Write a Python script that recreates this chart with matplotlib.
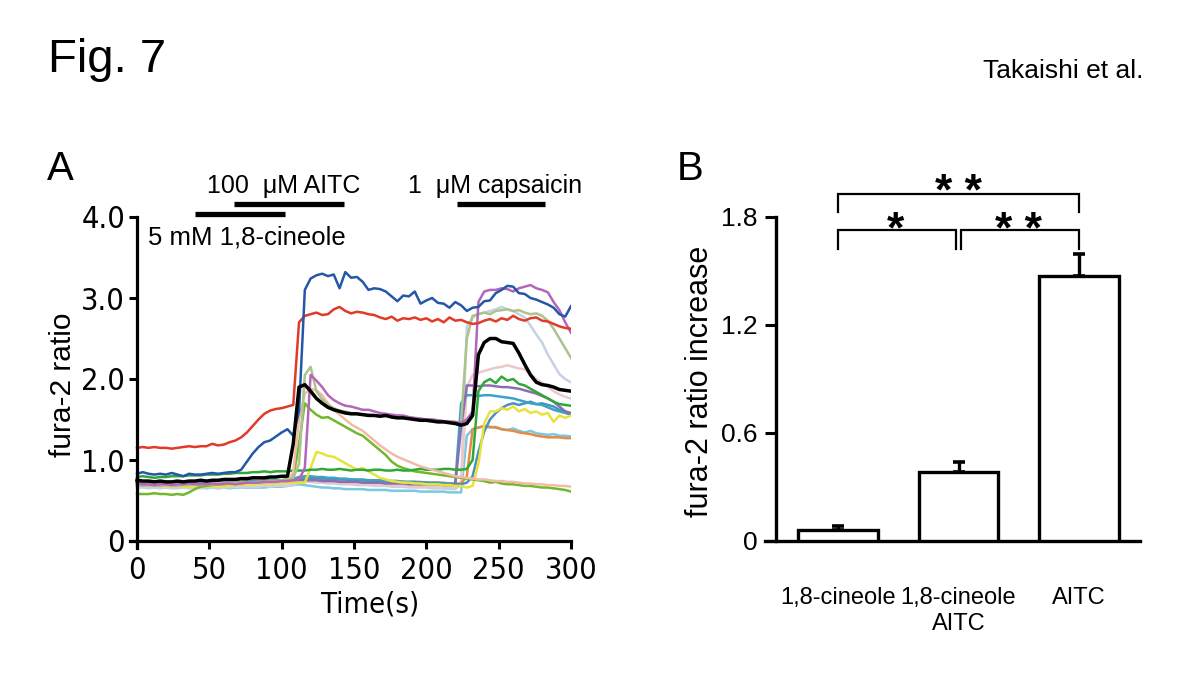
import numpy as np
import matplotlib
matplotlib.use("Agg")
import matplotlib.pyplot as plt

# ---------------- data: panel A (fura-2 ratio traces, sampled every 4 s) ----------------
time_s = np.arange(0, 301, 4)

red = [1.15,1.16,1.15,1.16,1.15,1.15,1.14,1.15,1.16,1.17,
       1.16,1.17,1.17,1.20,1.18,1.19,1.22,1.24,1.28,1.34,
       1.42,1.50,1.57,1.61,1.63,1.64,1.66,1.68,2.70,2.78,
       2.80,2.82,2.79,2.80,2.86,2.89,2.84,2.81,2.83,2.82,
       2.80,2.79,2.76,2.74,2.77,2.72,2.75,2.74,2.76,2.73,
       2.75,2.71,2.74,2.70,2.76,2.72,2.73,2.70,2.68,2.69,
       2.72,2.74,2.71,2.75,2.73,2.78,2.74,2.72,2.75,2.76,
       2.72,2.71,2.68,2.65,2.63,2.62]
blue = [0.83,0.85,0.83,0.82,0.83,0.82,0.84,0.82,0.80,0.83,
        0.82,0.82,0.83,0.84,0.83,0.84,0.85,0.85,0.88,0.98,
        1.08,1.16,1.22,1.24,1.29,1.34,1.38,1.30,1.60,3.10,
        3.24,3.28,3.30,3.27,3.29,3.12,3.32,3.25,3.26,3.20,
        3.10,3.12,3.11,3.08,3.02,2.96,3.03,3.02,3.08,2.93,
        2.97,3.00,2.94,2.93,2.88,2.95,2.91,2.84,2.88,2.89,
        2.96,2.97,3.06,3.10,3.15,3.14,3.06,3.05,3.00,2.98,
        2.95,2.92,2.88,2.80,2.77,2.90]
black = [0.75,0.74,0.74,0.73,0.74,0.73,0.73,0.74,0.73,0.74,
         0.74,0.75,0.74,0.75,0.75,0.76,0.76,0.76,0.77,0.77,
         0.78,0.78,0.78,0.79,0.79,0.80,0.80,1.20,1.90,1.93,
         1.85,1.76,1.70,1.65,1.62,1.60,1.58,1.57,1.57,1.56,
         1.55,1.55,1.54,1.55,1.53,1.52,1.52,1.51,1.50,1.49,
         1.49,1.48,1.47,1.47,1.46,1.45,1.43,1.45,1.55,2.30,
         2.45,2.50,2.50,2.46,2.45,2.44,2.32,2.18,2.05,1.96,
         1.93,1.92,1.90,1.87,1.86,1.85]
magenta = [0.71,0.70,0.70,0.69,0.70,0.70,0.69,0.70,0.70,0.71,
           0.70,0.70,0.70,0.71,0.70,0.71,0.71,0.70,0.71,0.72,
           0.72,0.72,0.73,0.73,0.73,0.74,0.74,0.75,0.76,0.90,
           2.05,1.98,1.90,1.80,1.74,1.70,1.67,1.66,1.64,1.62,
           1.62,1.60,1.58,1.57,1.56,1.55,1.55,1.53,1.52,1.51,
           1.50,1.50,1.49,1.48,1.47,1.47,1.46,1.50,1.60,2.95,
           3.08,3.10,3.10,3.12,3.11,3.08,3.12,3.14,3.16,3.12,
           3.10,3.07,2.95,2.85,2.70,2.57]
olive = [0.69,0.68,0.69,0.68,0.68,0.69,0.68,0.68,0.69,0.69,
         0.70,0.69,0.70,0.70,0.70,0.71,0.71,0.71,0.72,0.72,
         0.72,0.73,0.73,0.74,0.74,0.75,0.76,0.78,0.95,2.05,
         2.15,1.85,1.75,1.68,1.64,1.61,1.60,1.58,1.57,1.56,
         1.56,1.55,1.55,1.54,1.55,1.53,1.54,1.52,1.51,1.51,
         1.50,1.50,1.49,1.48,1.48,1.47,1.46,2.50,2.78,2.80,
         2.82,2.80,2.84,2.85,2.86,2.84,2.85,2.82,2.80,2.81,
         2.78,2.72,2.62,2.50,2.38,2.26]
greyblue = [0.66,0.66,0.65,0.66,0.65,0.66,0.65,0.65,0.66,0.65,
            0.66,0.65,0.66,0.66,0.65,0.66,0.66,0.67,0.66,0.67,
            0.67,0.67,0.68,0.67,0.68,0.68,0.68,0.69,0.72,0.74,
            0.73,0.72,0.72,0.71,0.71,0.70,0.70,0.70,0.69,0.69,
            0.69,0.68,0.68,0.68,0.67,0.67,0.67,0.66,0.66,0.66,
            0.66,0.65,0.65,0.65,0.64,0.64,0.70,2.65,2.76,2.80,
            2.82,2.84,2.86,2.89,2.86,2.84,2.80,2.76,2.66,2.55,
            2.45,2.30,2.18,2.06,2.00,1.96]
peach = [0.71,0.70,0.71,0.70,0.70,0.71,0.70,0.70,0.71,0.71,
         0.71,0.70,0.71,0.71,0.71,0.72,0.72,0.72,0.71,0.72,
         0.72,0.72,0.73,0.72,0.73,0.73,0.74,0.85,1.50,1.82,
         1.88,1.86,1.80,1.70,1.62,1.56,1.50,1.44,1.40,1.36,
         1.30,1.24,1.18,1.13,1.08,1.04,1.01,0.98,0.95,0.92,
         0.90,0.88,0.86,0.84,0.82,0.80,0.79,0.78,0.77,0.76,
         0.76,0.75,0.74,0.74,0.73,0.73,0.72,0.71,0.71,0.70,
         0.70,0.69,0.69,0.68,0.68,0.67]
pink = [0.68,0.68,0.67,0.68,0.68,0.67,0.68,0.68,0.67,0.68,
        0.68,0.68,0.69,0.68,0.69,0.69,0.69,0.70,0.69,0.70,
        0.70,0.70,0.70,0.71,0.71,0.71,0.71,0.72,0.73,0.74,
        0.74,0.73,0.73,0.72,0.72,0.72,0.71,0.71,0.71,0.70,
        0.70,0.70,0.70,0.69,0.69,0.69,0.69,0.68,0.68,0.68,
        0.68,0.68,0.67,0.67,0.67,0.67,0.68,1.90,2.05,2.08,
        2.10,2.12,2.14,2.15,2.17,2.15,2.13,2.12,2.06,2.00,
        1.95,1.90,1.85,1.81,1.78,1.76]
dkgreen = [0.79,0.80,0.79,0.78,0.79,0.79,0.80,0.80,0.80,0.81,
           0.81,0.81,0.82,0.82,0.82,0.83,0.83,0.84,0.84,0.84,
           0.85,0.85,0.86,0.85,0.86,0.86,0.86,0.87,0.87,0.87,
           0.88,0.88,0.89,0.88,0.88,0.89,0.88,0.87,0.88,0.88,
           0.87,0.88,0.88,0.87,0.87,0.88,0.87,0.87,0.88,0.89,
           0.88,0.88,0.88,0.89,0.89,0.88,0.88,0.89,1.00,1.85,
           1.96,2.00,1.95,2.03,1.98,2.00,1.94,1.92,1.88,1.84,
           1.80,1.76,1.72,1.69,1.68,1.67]
lime = [0.58,0.58,0.58,0.59,0.58,0.58,0.57,0.58,0.57,0.60,
        0.64,0.67,0.68,0.69,0.70,0.70,0.71,0.71,0.72,0.72,
        0.72,0.73,0.73,0.74,0.74,0.75,0.75,0.78,1.20,1.70,
        1.62,1.56,1.52,1.53,1.49,1.45,1.41,1.37,1.33,1.30,
        1.24,1.18,1.12,1.06,0.98,0.93,0.90,0.88,0.86,0.85,
        0.84,0.83,0.82,0.81,0.80,0.79,0.78,0.77,0.76,0.75,
        0.74,0.72,0.73,0.71,0.70,0.70,0.69,0.68,0.68,0.67,
        0.66,0.66,0.65,0.64,0.63,0.61]
yellow = [0.70,0.69,0.70,0.69,0.68,0.68,0.67,0.68,0.67,0.67,
          0.68,0.67,0.67,0.68,0.67,0.68,0.68,0.69,0.69,0.70,
          0.70,0.70,0.71,0.70,0.71,0.71,0.72,0.72,0.72,0.72,
          0.90,1.10,1.08,1.05,1.04,1.00,0.96,0.92,0.88,0.90,
          0.86,0.82,0.78,0.76,0.74,0.73,0.72,0.72,0.71,0.71,
          0.70,0.70,0.70,0.69,0.69,0.68,0.68,0.66,0.68,0.95,
          1.45,1.60,1.60,1.64,1.62,1.66,1.60,1.63,1.58,1.60,
          1.56,1.58,1.47,1.55,1.52,1.55]
teal = [0.73,0.72,0.72,0.73,0.72,0.72,0.71,0.72,0.72,0.71,
        0.72,0.72,0.71,0.72,0.72,0.73,0.72,0.73,0.73,0.73,
        0.74,0.74,0.74,0.75,0.75,0.75,0.76,0.77,0.79,0.80,
        0.80,0.79,0.79,0.78,0.78,0.77,0.77,0.76,0.76,0.76,
        0.75,0.75,0.75,0.74,0.74,0.74,0.73,0.73,0.73,0.72,
        0.72,0.72,0.72,0.71,0.71,0.71,1.70,1.80,1.80,1.79,
        1.80,1.80,1.79,1.78,1.77,1.76,1.74,1.72,1.70,1.69,
        1.68,1.65,1.62,1.60,1.58,1.56]
medpurple = [0.70,0.70,0.69,0.70,0.70,0.69,0.69,0.70,0.70,0.69,
             0.70,0.70,0.70,0.70,0.71,0.71,0.71,0.71,0.72,0.72,
             0.72,0.72,0.73,0.73,0.73,0.74,0.74,0.74,0.75,0.75,
             0.75,0.75,0.74,0.74,0.74,0.73,0.73,0.73,0.73,0.72,
             0.72,0.72,0.72,0.71,0.71,0.71,0.71,0.70,0.70,0.70,
             0.70,0.70,0.70,0.69,0.69,0.69,1.40,1.92,1.92,1.91,
             1.92,1.92,1.91,1.90,1.90,1.89,1.88,1.86,1.84,1.82,
             1.79,1.76,1.72,1.66,1.60,1.57]
steel = [0.72,0.71,0.71,0.70,0.71,0.70,0.70,0.71,0.70,0.70,
         0.71,0.70,0.71,0.71,0.71,0.72,0.72,0.72,0.72,0.73,
         0.73,0.73,0.73,0.74,0.74,0.74,0.75,0.75,0.76,0.77,
         0.78,0.78,0.77,0.77,0.76,0.76,0.76,0.75,0.75,0.75,
         0.74,0.74,0.74,0.74,0.73,0.73,0.73,0.72,0.72,0.72,
         0.72,0.71,0.71,0.71,0.70,0.70,0.70,0.72,0.80,1.10,
         1.35,1.50,1.58,1.64,1.68,1.70,1.68,1.70,1.72,1.69,
         1.70,1.68,1.66,1.62,1.60,1.58]
cyan = [0.68,0.67,0.67,0.66,0.67,0.66,0.66,0.67,0.66,0.66,
        0.66,0.66,0.65,0.66,0.65,0.66,0.65,0.66,0.66,0.66,
        0.66,0.66,0.66,0.67,0.67,0.67,0.68,0.69,0.70,0.69,
        0.68,0.67,0.66,0.66,0.65,0.65,0.64,0.64,0.64,0.64,
        0.63,0.63,0.63,0.63,0.62,0.62,0.62,0.62,0.62,0.61,
        0.61,0.61,0.61,0.61,0.60,0.60,0.60,1.30,1.38,1.40,
        1.42,1.40,1.41,1.38,1.37,1.39,1.36,1.34,1.36,1.33,
        1.32,1.31,1.32,1.30,1.30,1.29]
orange = [0.72,0.71,0.72,0.72,0.71,0.72,0.72,0.71,0.72,0.72,
          0.72,0.72,0.73,0.72,0.73,0.73,0.73,0.74,0.73,0.74,
          0.74,0.74,0.75,0.75,0.75,0.75,0.76,0.76,0.77,0.78,
          0.78,0.77,0.77,0.77,0.76,0.76,0.76,0.76,0.75,0.75,
          0.75,0.75,0.74,0.74,0.74,0.74,0.73,0.73,0.73,0.73,
          0.72,0.72,0.72,0.72,0.71,0.71,0.71,0.80,1.38,1.40,
          1.42,1.41,1.40,1.38,1.37,1.36,1.34,1.33,1.32,1.30,
          1.29,1.28,1.28,1.28,1.27,1.27]

# drug application periods (s)
cineole_period = [40, 102]
aitc_period = [67, 143]
capsaicin_period = [221, 282]

# ---------------- data: panel B ----------------
groups = ["1,8-cineole", "1,8-cineole\nAITC", "AITC"]
increase_mean = [0.06, 0.383, 1.474]
increase_sem = [0.025, 0.057, 0.12]

# ---------------- figure ----------------
W, H = 1200, 682
fig = plt.figure(figsize=(W / 100, H / 100), dpi=100)
SANS = ["Liberation Sans", "DejaVu Sans"]
NARROW = ["DejaVu Sans", "Liberation Sans"]


def fx(x):
    return x / W


def fy(y):
    return 1 - y / H


# ---- Panel A ----
axA = fig.add_axes([fx(130), fy(548), (571 - 130) / W, (548 - 217) / H])
traces = [
    (cyan, "#7ac8e2", 1.8), (greyblue, "#c8d1e4", 1.8), (pink, "#ebc9c9", 1.8),
    (orange, "#e58b45", 1.8), (steel, "#4a90c2", 1.8), (teal, "#3aa3c6", 1.8),
    (medpurple, "#8a6db2", 1.8), (yellow, "#e8e33a", 1.8), (lime, "#72b82c", 1.8),
    (dkgreen, "#2fa838", 1.8), (peach, "#f2bba8", 1.8), (olive, "#abc48c", 1.8),
    (magenta, "#b466ba", 1.8), (red, "#e23a28", 1.8), (blue, "#2457a8", 1.8),
    (black, "#000000", 2.5),
]
for series, col, lw in traces:
    axA.plot(time_s, series, color=col, lw=lw, solid_joinstyle="round")

axA.set_xlim(-7 / 1.4467, 300)
axA.set_ylim(-7 / 81.0, 4.0)
for s in ["top", "right"]:
    axA.spines[s].set_visible(False)
axA.spines["left"].set_position(("data", 0))
axA.spines["bottom"].set_position(("data", 0))
for s in ["left", "bottom"]:
    axA.spines[s].set_linewidth(2.3)
axA.set_xticks([0, 50, 100, 150, 200, 250, 300])
axA.set_yticks([0, 1, 2, 3, 4])
axA.set_yticklabels(["0", "1.0", "2.0", "3.0", "4.0"])
axA.tick_params(axis="both", direction="out", width=2.2, length=5.5,
                labelsize=22)
axA.tick_params(axis="x", pad=5)
axA.tick_params(axis="y", pad=3)
for lab in axA.get_xticklabels() + axA.get_yticklabels():
    lab.set_family(NARROW)
    lab.set_stretch("condensed")

# drug bars
for per, yv in [(cineole_period, 4.035), (aitc_period, 4.16), (capsaicin_period, 4.16)]:
    axA.plot(per, [yv, yv], color="k", lw=3.8, solid_capstyle="butt", clip_on=False)

fig.text(fx(207), fy(193), "100  \u03bcM AITC", fontsize=18, family=SANS, ha="left", va="baseline")
fig.text(fx(408), fy(193), "1  \u03bcM capsaicin", fontsize=18, family=SANS, ha="left", va="baseline")
fig.text(fx(148), fy(245), "5 mM 1,8-cineole", fontsize=18.5, family=SANS, ha="left", va="baseline")

fig.text(fx(63), fy(385), "fura-2 ratio", rotation=90, fontsize=21.5, family=SANS,
         ha="center", va="center")
fig.text(fx(370), fy(605), "Time(s)", fontsize=21, family=NARROW, stretch="condensed",
         ha="center", va="center")

# ---- Panel B ----
axB = fig.add_axes([fx(765), fy(541), (1140 - 765) / W, (541 - 217) / H])
xpos = np.arange(len(groups))
axB.bar(xpos, increase_mean, width=0.66, color="white", edgecolor="black",
        linewidth=2.4, zorder=3)
axB.errorbar(xpos, increase_mean, yerr=[np.zeros(len(xpos)), increase_sem], fmt="none",
             ecolor="black", elinewidth=2.4, capsize=4, capthick=2.6, zorder=2)
axB.set_xlim((765 - 838) / 120.5, (1140 - 838) / 120.5)
axB.set_ylim(0, 1.8)
for s in ["top", "right"]:
    axB.spines[s].set_visible(False)
axB.spines["left"].set_position(("data", (776 - 838) / 120.5))
for s in ["left", "bottom"]:
    axB.spines[s].set_linewidth(2.4)
axB.set_yticks([0, 0.6, 1.2, 1.8])
axB.set_yticklabels(["0", "0.6", "1.2", "1.8"])
axB.tick_params(axis="y", direction="out", width=2.2, length=8, labelsize=19, pad=5)
axB.set_xticks(xpos)
axB.set_xticklabels(groups)
axB.tick_params(axis="x", length=0, labelsize=17, pad=33)
for lab in axB.get_xticklabels() + axB.get_yticklabels():
    lab.set_family(SANS)
for lab in axB.get_xticklabels():
    lab.set_linespacing(1.25)

# significance brackets
def bracket(x0, x1, ytop, ybot):
    axB.plot([x0, x0, x1, x1], [ybot, ytop, ytop, ybot], color="k", lw=1.6,
             clip_on=False, solid_joinstyle="miter")

bracket(0.0, 2.0, 1.926, 1.826)
bracket(0.0, 0.98, 1.726, 1.622)
bracket(1.02, 2.0, 1.726, 1.622)
for xs, ys, txt in [(1.0, 1.865, "* *"), (0.473, 1.657, "*"), (1.494, 1.657, "* *")]:
    axB.text(xs, ys, txt, fontsize=32, fontweight="bold", family=SANS,
             ha="center", va="baseline", clip_on=False)

fig.text(fx(700), fy(381), "fura-2 ratio increase", rotation=90, fontsize=22,
         family=SANS, ha="center", va="center")

# ---- headings ----
fig.text(fx(48), fy(72), "Fig. 7", fontsize=34, family=SANS, ha="left", va="baseline")
fig.text(fx(1143), fy(78), "Takaishi et al.", fontsize=19, family=SANS, ha="right", va="baseline")
fig.text(fx(47), fy(180), "A", fontsize=29, family=SANS, ha="left", va="baseline")
fig.text(fx(677), fy(180), "B", fontsize=29, family=SANS, ha="left", va="baseline")

fig.savefig("out.png", dpi=100)
